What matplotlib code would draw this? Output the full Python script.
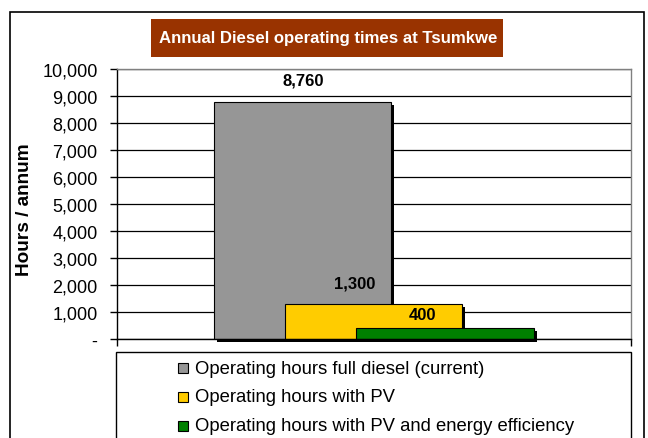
import numpy as np
import matplotlib
matplotlib.use("Agg")
import matplotlib.pyplot as plt
from matplotlib.patches import Rectangle
from matplotlib.transforms import offset_copy

plt.rcParams['font.family'] = ['Liberation Sans', 'DejaVu Sans']

# data
series = ['Operating hours full diesel (current)',
          'Operating hours with PV',
          'Operating hours with PV and energy efficiency']
hours = [8760, 1300, 400]
labels = ['8,760', '1,300', '400']
colors = ['#969696', '#FFCC00', '#008000']
yticks = [0, 1000, 2000, 3000, 4000, 5000, 6000, 7000, 8000, 9000, 10000]
ytick_labels = ['-', '1,000', '2,000', '3,000', '4,000', '5,000', '6,000',
                '7,000', '8,000', '9,000', '10,000']

W, H = 648, 439
fig = plt.figure(figsize=(W / 100, H / 100), dpi=100)

def fx(px):
    return px / W

def fy(py):
    return 1 - py / H

# outer chart border (bottom edge is cut off in the original)
fig.patches.append(Rectangle((fx(10), -0.05), fx(644) - fx(10), fy(13) + 0.05,
                             transform=fig.transFigure, fill=False,
                             edgecolor='black', lw=1.2))

ax = fig.add_axes([fx(117), fy(340), fx(631) - fx(117), fy(70) - fy(340)])

centers = [0.361, 0.499, 0.638]
width = 0.345
shadow = offset_copy(ax.transData, fig=fig, x=3, y=-3, units='dots')
for i in range(len(hours)):
    ax.bar(centers[i], hours[i], width=width, color='black', transform=shadow,
           zorder=2 + 2 * i, clip_on=False)
    ax.bar(centers[i], hours[i], width=width, color=colors[i], edgecolor='black',
           linewidth=0.8, zorder=3 + 2 * i)

# data labels (positions as placed in the original)
label_pos = [(0.362, 9600), (0.462, 2070), (0.594, 900)]
for (x, y), t in zip(label_pos, labels):
    ax.text(x, y, t, ha='center', va='center', fontsize=12, fontweight='bold',
            zorder=10)

ax.set_xlim(0, 1)
ax.set_ylim(0, 10000)
ax.set_yticks(yticks)
ax.set_yticklabels(ytick_labels, fontsize=13)
ax.set_xticks([0, 1])
ax.set_xticklabels([])
ax.tick_params(axis='both', direction='out', length=5, width=1, color='black')
ax.tick_params(axis='y', pad=9)
ax.yaxis.grid(True, color='black', linewidth=0.9, zorder=0)
ax.set_axisbelow(True)
ax.spines['left'].set_color('black')
ax.spines['bottom'].set_color('black')
ax.spines['top'].set_color('#808080')
ax.spines['right'].set_color('#808080')
for s in ax.spines.values():
    s.set_linewidth(1.0)
    s.set_zorder(20)

ax.set_ylabel('Hours / annum', fontsize=13.7, fontweight='bold')
ax.yaxis.set_label_coords(-0.163, 0.483)

# title box
fig.patches.append(Rectangle((fx(151), fy(58)), fx(503) - fx(151), fy(20) - fy(58),
                             transform=fig.transFigure, facecolor='#993300',
                             edgecolor='none'))
fig.text(fx(328), fy(39), 'Annual Diesel operating times at Tsumkwe',
         ha='center', va='center', color='white', fontsize=12.1, fontweight='bold')

# legend box (cut off at the bottom)
fig.patches.append(Rectangle((fx(116), -0.05), fx(631) - fx(116), fy(353) + 0.05,
                             transform=fig.transFigure, fill=False,
                             edgecolor='black', lw=1.0))
row_y = [369, 398, 427]
for name, c, y in zip(series, colors, row_y):
    fig.patches.append(Rectangle((fx(178), fy(y + 5)), fx(10), 10 / H,
                                 transform=fig.transFigure, facecolor=c,
                                 edgecolor='black', lw=0.8))
    fig.text(fx(195), fy(y), name, ha='left', va='center', fontsize=13.3)

fig.savefig('out.png', dpi=100)
